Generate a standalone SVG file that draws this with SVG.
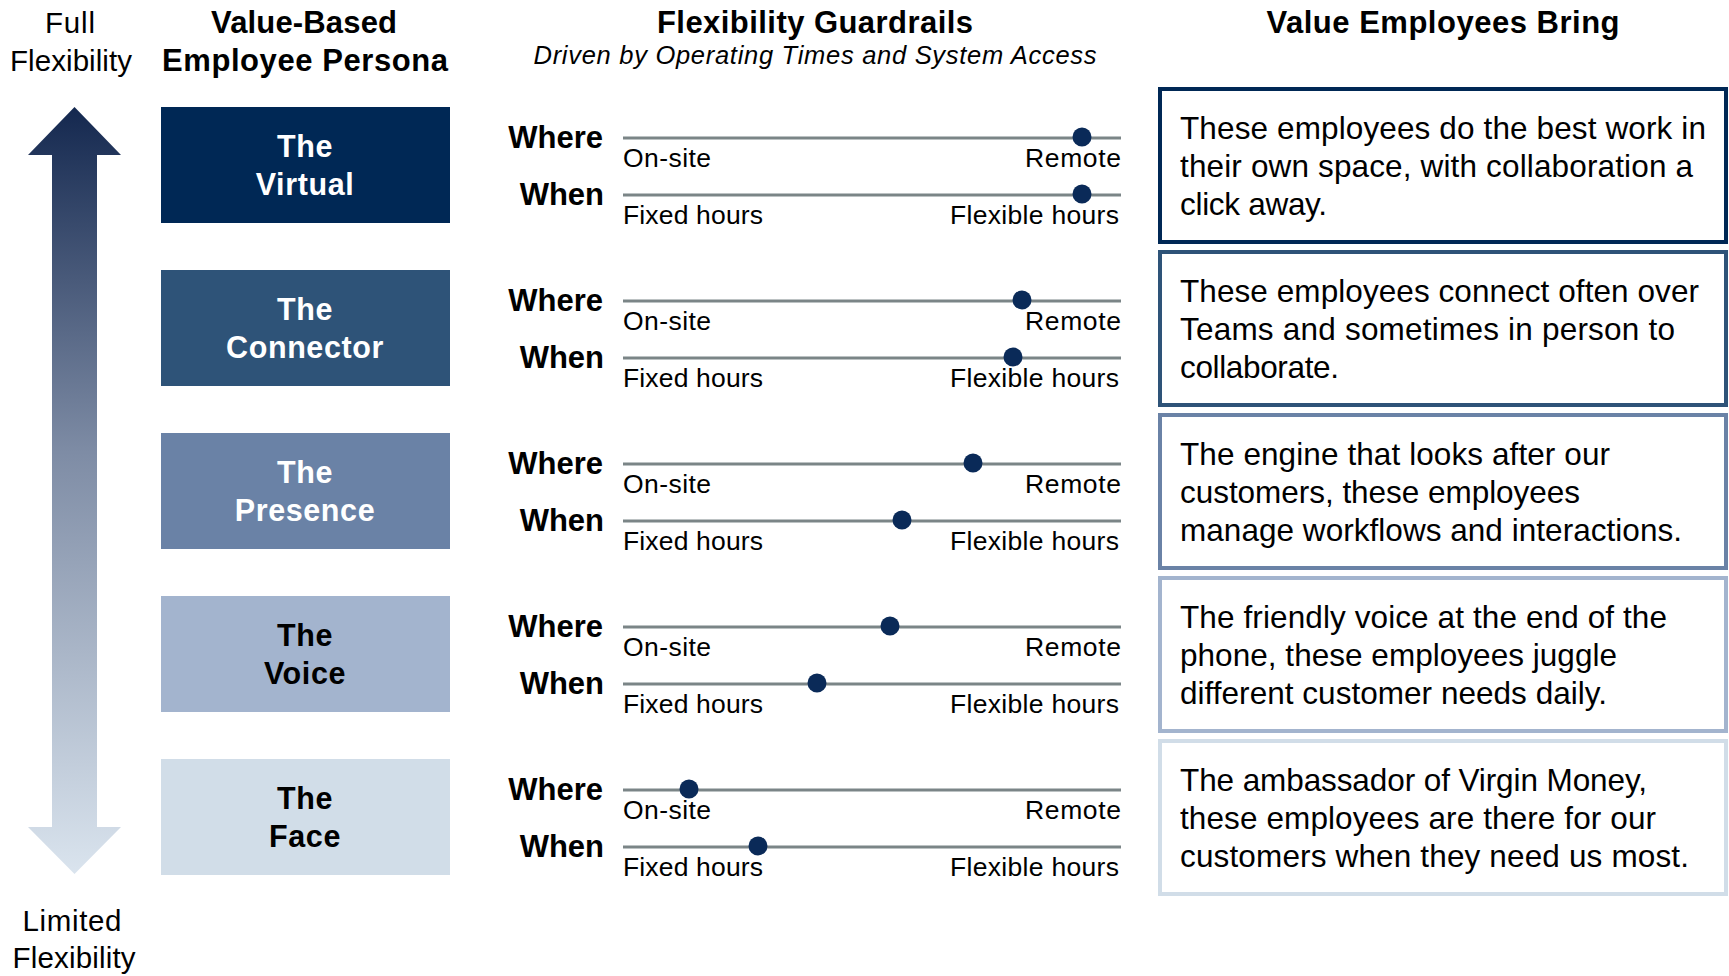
<svg xmlns="http://www.w3.org/2000/svg" width="1729" height="976" viewBox="0 0 1729 976">
  <style>
    text { font-family: "Liberation Sans", Arial, sans-serif; fill: #000; }
    .hdr { font-size: 31px; font-weight: bold; text-anchor: middle; }
    .axis { font-size: 29.5px; text-anchor: middle; }
    .sub { font-size: 25.5px; font-style: italic; text-anchor: middle; }
    .pname { font-size: 30.5px; font-weight: bold; text-anchor: middle; letter-spacing: 0.6px; }
    .light { fill: #fff; }
    .dim { font-size: 31px; font-weight: bold; text-anchor: end; }
    .lbl { font-size: 26.5px; }
    .lblr { font-size: 26.5px; text-anchor: end; }
    .rail { stroke: #7B8587; stroke-width: 3; }
    .dot { fill: #0A2A58; }
    .desc { font-size: 31.5px; }
    .card { fill: #fff; stroke-width: 4; }
  </style>
  <defs>
    <linearGradient id="flexGrad" x1="0" y1="107" x2="0" y2="874" gradientUnits="userSpaceOnUse">
      <stop offset="0" stop-color="#14284F"/>
      <stop offset="0.45" stop-color="#7E8CA5"/>
      <stop offset="1" stop-color="#DAE4EE"/>
    </linearGradient>
  </defs>

  <rect width="1729" height="976" fill="#fff"/>

  <!-- column headings -->
  <text class="axis" x="70" y="33" textLength="50" lengthAdjust="spacing">Full</text>
  <text class="axis" x="71" y="71" textLength="122" lengthAdjust="spacing">Flexibility</text>
  <text class="hdr" x="304" y="33" textLength="186" lengthAdjust="spacing">Value-Based</text>
  <text class="hdr" x="305" y="71" textLength="286" lengthAdjust="spacing">Employee Persona</text>
  <text class="hdr" x="815" y="33" textLength="316" lengthAdjust="spacing">Flexibility Guardrails</text>
  <text class="sub" x="815" y="64" textLength="563" lengthAdjust="spacing">Driven by Operating Times and System Access</text>
  <text class="hdr" x="1443" y="33" textLength="353" lengthAdjust="spacing">Value Employees Bring</text>
  <text class="axis" x="72" y="931" textLength="99" lengthAdjust="spacing">Limited</text>
  <text class="axis" x="74" y="968" textLength="123" lengthAdjust="spacing">Flexibility</text>

  <!-- flexibility scale arrow -->
  <polygon points="74.5,107 121,155 97,155 97,827 121,827 74.5,874 28,827 52,827 52,155 28,155" fill="url(#flexGrad)"/>

  <!-- persona: The Virtual -->
  <g id="persona-virtual">
    <rect x="161" y="107" width="289" height="116" fill="#002855"/>
    <text class="pname light" x="305" y="157">The</text>
    <text class="pname light" x="305" y="195">Virtual</text>
  </g>
  <g id="guardrails-virtual">
    <text class="dim" x="603" y="148">Where</text>
    <line class="rail" x1="623" y1="138" x2="1121" y2="138"/>
    <text class="lbl" x="623" y="167" textLength="88" lengthAdjust="spacing">On-site</text>
    <text class="lblr" x="1121" y="167" textLength="96" lengthAdjust="spacing">Remote</text>
    <circle class="dot" cx="1082" cy="137" r="9.5"/>
    <text class="dim" x="604" y="205">When</text>
    <line class="rail" x1="623" y1="195" x2="1121" y2="195"/>
    <text class="lbl" x="623" y="224" textLength="140" lengthAdjust="spacing">Fixed hours</text>
    <text class="lblr" x="1119" y="224" textLength="169" lengthAdjust="spacing">Flexible hours</text>
    <circle class="dot" cx="1082" cy="194" r="9.5"/>
  </g>
  <g id="value-virtual">
    <rect class="card" x="1160" y="89" width="566" height="153" stroke="#002855"/>
    <text class="desc" x="1180" y="139" textLength="526" lengthAdjust="spacing">These employees do the best work in</text>
    <text class="desc" x="1180" y="177" textLength="513" lengthAdjust="spacing">their own space, with collaboration a</text>
    <text class="desc" x="1180" y="215" textLength="147" lengthAdjust="spacing">click away.</text>
  </g>

  <!-- persona: The Connector -->
  <g id="persona-connector">
    <rect x="161" y="270" width="289" height="116" fill="#2E5378"/>
    <text class="pname light" x="305" y="320">The</text>
    <text class="pname light" x="305" y="358">Connector</text>
  </g>
  <g id="guardrails-connector">
    <text class="dim" x="603" y="311">Where</text>
    <line class="rail" x1="623" y1="301" x2="1121" y2="301"/>
    <text class="lbl" x="623" y="330" textLength="88" lengthAdjust="spacing">On-site</text>
    <text class="lblr" x="1121" y="330" textLength="96" lengthAdjust="spacing">Remote</text>
    <circle class="dot" cx="1022" cy="300" r="9.5"/>
    <text class="dim" x="604" y="368">When</text>
    <line class="rail" x1="623" y1="358" x2="1121" y2="358"/>
    <text class="lbl" x="623" y="387" textLength="140" lengthAdjust="spacing">Fixed hours</text>
    <text class="lblr" x="1119" y="387" textLength="169" lengthAdjust="spacing">Flexible hours</text>
    <circle class="dot" cx="1013" cy="357" r="9.5"/>
  </g>
  <g id="value-connector">
    <rect class="card" x="1160" y="252" width="566" height="153" stroke="#2E5378"/>
    <text class="desc" x="1180" y="302" textLength="519" lengthAdjust="spacing">These employees connect often over</text>
    <text class="desc" x="1180" y="340" textLength="495" lengthAdjust="spacing">Teams and sometimes in person to</text>
    <text class="desc" x="1180" y="378" textLength="159" lengthAdjust="spacing">collaborate.</text>
  </g>

  <!-- persona: The Presence -->
  <g id="persona-presence">
    <rect x="161" y="433" width="289" height="116" fill="#6A82A6"/>
    <text class="pname light" x="305" y="483">The</text>
    <text class="pname light" x="305" y="521">Presence</text>
  </g>
  <g id="guardrails-presence">
    <text class="dim" x="603" y="474">Where</text>
    <line class="rail" x1="623" y1="464" x2="1121" y2="464"/>
    <text class="lbl" x="623" y="493" textLength="88" lengthAdjust="spacing">On-site</text>
    <text class="lblr" x="1121" y="493" textLength="96" lengthAdjust="spacing">Remote</text>
    <circle class="dot" cx="973" cy="463" r="9.5"/>
    <text class="dim" x="604" y="531">When</text>
    <line class="rail" x1="623" y1="521" x2="1121" y2="521"/>
    <text class="lbl" x="623" y="550" textLength="140" lengthAdjust="spacing">Fixed hours</text>
    <text class="lblr" x="1119" y="550" textLength="169" lengthAdjust="spacing">Flexible hours</text>
    <circle class="dot" cx="902" cy="520" r="9.5"/>
  </g>
  <g id="value-presence">
    <rect class="card" x="1160" y="415" width="566" height="153" stroke="#6A82A6"/>
    <text class="desc" x="1180" y="465" textLength="430" lengthAdjust="spacing">The engine that looks after our</text>
    <text class="desc" x="1180" y="503" textLength="400" lengthAdjust="spacing">customers, these employees</text>
    <text class="desc" x="1180" y="541" textLength="502" lengthAdjust="spacing">manage workflows and interactions.</text>
  </g>

  <!-- persona: The Voice -->
  <g id="persona-voice">
    <rect x="161" y="596" width="289" height="116" fill="#A3B4CE"/>
    <text class="pname" x="305" y="646">The</text>
    <text class="pname" x="305" y="684">Voice</text>
  </g>
  <g id="guardrails-voice">
    <text class="dim" x="603" y="637">Where</text>
    <line class="rail" x1="623" y1="627" x2="1121" y2="627"/>
    <text class="lbl" x="623" y="656" textLength="88" lengthAdjust="spacing">On-site</text>
    <text class="lblr" x="1121" y="656" textLength="96" lengthAdjust="spacing">Remote</text>
    <circle class="dot" cx="890" cy="626" r="9.5"/>
    <text class="dim" x="604" y="694">When</text>
    <line class="rail" x1="623" y1="684" x2="1121" y2="684"/>
    <text class="lbl" x="623" y="713" textLength="140" lengthAdjust="spacing">Fixed hours</text>
    <text class="lblr" x="1119" y="713" textLength="169" lengthAdjust="spacing">Flexible hours</text>
    <circle class="dot" cx="817" cy="683" r="9.5"/>
  </g>
  <g id="value-voice">
    <rect class="card" x="1160" y="578" width="566" height="153" stroke="#A3B4CE"/>
    <text class="desc" x="1180" y="628" textLength="487" lengthAdjust="spacing">The friendly voice at the end of the</text>
    <text class="desc" x="1180" y="666" textLength="437" lengthAdjust="spacing">phone, these employees juggle</text>
    <text class="desc" x="1180" y="704" textLength="427" lengthAdjust="spacing">different customer needs daily.</text>
  </g>

  <!-- persona: The Face -->
  <g id="persona-face">
    <rect x="161" y="759" width="289" height="116" fill="#D1DDE8"/>
    <text class="pname" x="305" y="809">The</text>
    <text class="pname" x="305" y="847">Face</text>
  </g>
  <g id="guardrails-face">
    <text class="dim" x="603" y="800">Where</text>
    <line class="rail" x1="623" y1="790" x2="1121" y2="790"/>
    <text class="lbl" x="623" y="819" textLength="88" lengthAdjust="spacing">On-site</text>
    <text class="lblr" x="1121" y="819" textLength="96" lengthAdjust="spacing">Remote</text>
    <circle class="dot" cx="689" cy="789" r="9.5"/>
    <text class="dim" x="604" y="857">When</text>
    <line class="rail" x1="623" y1="847" x2="1121" y2="847"/>
    <text class="lbl" x="623" y="876" textLength="140" lengthAdjust="spacing">Fixed hours</text>
    <text class="lblr" x="1119" y="876" textLength="169" lengthAdjust="spacing">Flexible hours</text>
    <circle class="dot" cx="758" cy="846" r="9.5"/>
  </g>
  <g id="value-face">
    <rect class="card" x="1160" y="741" width="566" height="153" stroke="#D1DDE8"/>
    <text class="desc" x="1180" y="791" textLength="467" lengthAdjust="spacing">The ambassador of Virgin Money,</text>
    <text class="desc" x="1180" y="829" textLength="476" lengthAdjust="spacing">these employees are there for our</text>
    <text class="desc" x="1180" y="867" textLength="509" lengthAdjust="spacing">customers when they need us most.</text>
  </g>

  <!-- no connectors between nodes -->
  <g id="connectors"/>
</svg>
